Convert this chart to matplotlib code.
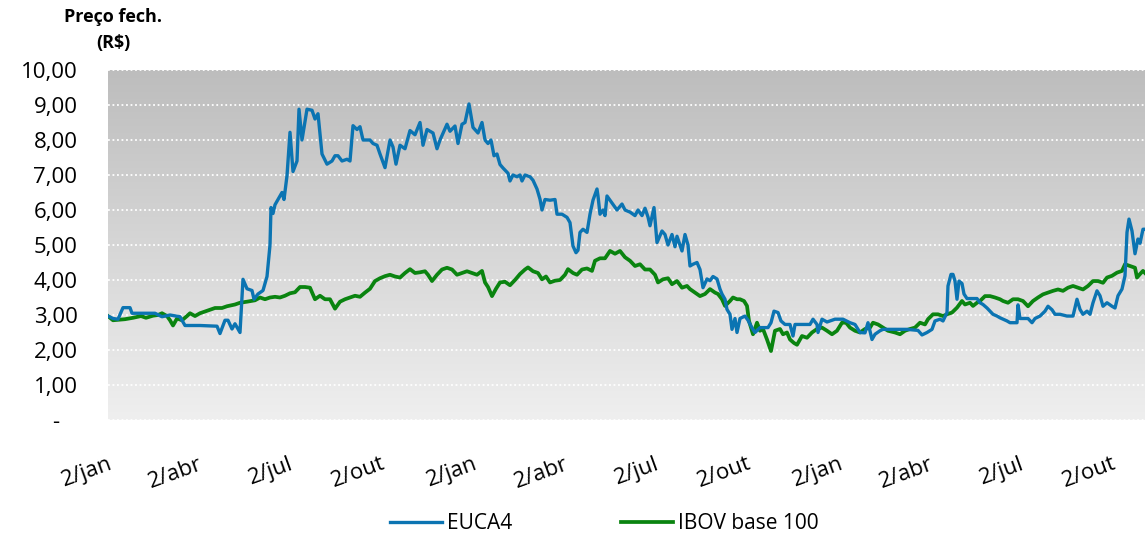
import matplotlib.pyplot as plt
import pandas as pd
import numpy as np

# dias corridos desde 02/01/2007 e preco de fechamento (R$)
dias_euca = [0, 5, 10, 15, 22, 24, 37, 47, 54, 62, 72, 77, 92, 109, 112, 117, 120, 124, 127, 132,
             135, 139, 144, 146, 150, 155, 159, 162, 163, 165, 167, 174, 176, 179, 182, 185, 189, 191,
             194, 199, 204, 207, 210, 214, 219, 224, 227, 230, 234, 239, 242, 245, 249, 252, 255, 262,
             265, 269, 272, 277, 282, 285, 288, 292, 297, 302, 307, 312, 315, 319, 322, 325, 329, 332,
             339, 342, 347, 350, 354, 357, 361, 365, 370, 374, 377, 380, 383, 386, 389, 392, 395, 400,
             402, 405, 409, 412, 414, 417, 422, 425, 429, 432, 434, 437, 442, 447, 449, 454, 459, 462,
             465, 468, 470, 472, 475, 479, 482, 485, 489, 490, 492, 495, 497, 499, 504, 509, 514, 517,
             522, 527, 530, 534, 537, 540, 542, 546, 549, 554, 557, 560, 564, 567, 569, 574, 577, 580,
             582, 585, 589, 592, 595, 599, 602, 605, 609, 612, 614, 617, 619, 622, 624, 627, 629, 632,
             637, 640, 644, 647, 652, 657, 660, 663, 666, 670, 673, 677, 682, 685, 687, 695, 702, 705,
             709, 710, 714, 719, 727, 735, 742, 747, 752, 757, 760, 764, 767, 772, 775, 787, 799, 810,
             814, 819, 824, 827, 832, 835, 839, 840, 843, 845, 847, 849, 851, 854, 856, 859, 864, 869,
             872, 875, 879, 882, 885, 889, 892, 895, 899, 902, 909, 910, 912, 917, 920, 924, 927, 932,
             937, 940, 944, 947, 952, 959, 965, 969, 972, 975, 979, 982, 985, 989, 992, 995, 999, 1004,
             1007, 1010, 1014, 1017, 1019, 1021, 1024, 1027, 1030, 1032, 1035, 1037]
euca4 = [2.97, 2.90, 2.88, 3.21, 3.21, 3.05, 3.05, 3.05, 2.95, 3.0, 2.95, 2.7, 2.7, 2.68, 2.47, 2.85, 2.85, 2.6, 2.75, 2.5,
         4.02, 3.75, 3.7, 3.45, 3.6, 3.7, 4.1, 5.0, 6.07, 5.9, 6.15, 6.5, 6.3, 6.98, 8.22, 7.1, 7.4, 8.88,
         8.0, 8.88, 8.85, 8.6, 8.75, 7.6, 7.31, 7.4, 7.55, 7.55, 7.4, 7.45, 7.4, 8.41, 8.3, 8.38, 8.0, 8.0,
         7.9, 7.85, 7.6, 7.21, 8.0, 7.8, 7.31, 7.85, 7.75, 8.27, 8.15, 8.5, 7.85, 8.3, 8.25, 8.2, 7.75, 8.0,
         8.45, 8.25, 8.4, 7.9, 8.45, 8.5, 9.03, 8.36, 8.2, 8.5, 8.0, 7.9, 8.0, 7.55, 7.6, 7.3, 7.2, 7.05,
         6.83, 7.0, 6.95, 7.0, 6.83, 7.0, 6.95, 6.85, 6.6, 6.31, 6.0, 6.3, 6.28, 6.3, 5.88, 5.88, 5.79, 5.64,
         4.97, 4.78, 4.85, 5.36, 5.45, 5.36, 5.88, 6.28, 6.6, 6.4, 5.88, 6.0, 5.84, 6.4, 6.2, 6.0, 6.17, 6.0,
         5.94, 5.84, 6.0, 5.84, 6.05, 5.8, 5.55, 6.07, 5.07, 5.4, 5.3, 5.0, 5.3, 4.95, 5.25, 4.83, 5.3, 5.0,
         4.4, 4.45, 4.5, 4.3, 3.78, 4.03, 3.98, 4.1, 4.03, 3.74, 3.6, 3.45, 3.16, 3.02, 2.59, 2.9, 2.5, 2.9,
         2.97, 2.85, 2.63, 2.5, 2.64, 2.64, 2.64, 2.78, 3.11, 3.07, 2.83, 2.73, 2.73, 2.4, 2.73, 2.73, 2.73, 2.88,
         2.73, 2.5, 2.88, 2.8, 2.88, 2.88, 2.78, 2.73, 2.5, 2.49, 2.78, 2.3, 2.45, 2.55, 2.59, 2.59, 2.59, 2.56,
         2.43, 2.5, 2.59, 2.83, 2.88, 2.83, 3.07, 3.83, 4.16, 4.16, 3.97, 3.45, 3.97, 3.9, 3.6, 3.47, 3.47, 3.47,
         3.35, 3.3, 3.2, 3.11, 3.02, 2.97, 2.92, 2.88, 2.83, 2.78, 2.78, 3.29, 2.9, 2.9, 2.9, 2.78, 2.9, 2.97,
         3.11, 3.25, 3.15, 3.02, 3.02, 2.97, 2.97, 3.45, 3.16, 3.02, 3.11, 3.02, 3.35, 3.69, 3.55, 3.25, 3.35, 3.25,
         3.2, 3.55, 3.74, 4.12, 5.36, 5.74, 5.4, 4.75, 5.17, 5.05, 5.45, 5.45]

dias_ibov = [0, 5, 17, 25, 33, 38, 45, 50, 54, 59, 62, 65, 69, 74, 79, 82, 87, 92, 97, 102, 107, 114, 119,
             127, 132, 139, 147, 152, 157, 162, 167, 172, 177, 182, 187, 192, 197, 202, 207, 212, 217,
             222, 227, 232, 237, 242, 247, 252, 257, 262, 267, 272, 277, 282, 287, 292, 297, 302, 307,
             312, 317, 320, 324, 329, 334, 339, 344, 349, 354, 359, 364, 369, 374, 377, 380, 384, 388,
             392, 397, 402, 407, 412, 417, 420, 425, 430, 434, 438, 442, 447, 452, 457, 460, 465, 469,
             474, 479, 484, 487, 492, 497, 502, 507, 512, 517, 522, 527, 532, 537, 542, 547, 550, 555,
             560, 564, 569, 574, 579, 582, 587, 592, 597, 602, 607, 610, 614, 617, 622, 625, 629, 632,
             636, 639, 641, 645, 649, 652, 655, 659, 663, 667, 672, 675, 679, 682, 686, 689, 694, 699,
             704, 709, 714, 719, 724, 729, 734, 738, 742, 747, 752, 757, 762, 765, 770, 775, 780, 787,
             792, 797, 802, 807, 812, 817, 820, 825, 830, 835, 839, 844, 849, 854, 857, 862, 865, 869,
             872, 877, 882, 887, 892, 895, 900, 905, 910, 915, 920, 925, 930, 935, 940, 945, 950, 955,
             960, 965, 970, 975, 980, 985, 990, 995, 999, 1004, 1009, 1014, 1017, 1022, 1027, 1029,
             1032, 1035, 1037]
ibov = [2.97, 2.85, 2.88, 2.92, 2.97, 2.92, 2.98, 3.0, 3.05, 2.97, 2.85, 2.7, 2.9, 2.85, 2.97, 3.05, 2.97, 3.05, 3.1, 3.15, 3.2, 3.2, 3.25,
        3.3, 3.35, 3.38, 3.42, 3.5, 3.45, 3.5, 3.52, 3.5, 3.55, 3.62, 3.65, 3.8, 3.8, 3.78, 3.45, 3.55, 3.45,
        3.45, 3.18, 3.38, 3.45, 3.5, 3.55, 3.52, 3.64, 3.75, 3.97, 4.05, 4.11, 4.15, 4.1, 4.07, 4.2, 4.31, 4.2,
        4.22, 4.25, 4.15, 3.97, 4.15, 4.3, 4.35, 4.3, 4.15, 4.2, 4.25, 4.2, 4.15, 4.26, 3.93, 3.8, 3.54, 3.75,
        3.93, 3.95, 3.85, 4.0, 4.17, 4.3, 4.36, 4.25, 4.2, 4.02, 4.1, 3.93, 3.98, 4.0, 4.15, 4.31, 4.2, 4.15,
        4.3, 4.33, 4.26, 4.55, 4.62, 4.62, 4.83, 4.75, 4.83, 4.65, 4.55, 4.4, 4.45, 4.3, 4.3, 4.15, 3.93, 4.02,
        4.05, 3.88, 3.97, 3.78, 3.83, 3.74, 3.64, 3.54, 3.6, 3.74, 3.64, 3.6, 3.45, 3.26, 3.4, 3.5, 3.45, 3.45,
        3.4, 3.26, 2.83, 2.45, 2.78, 2.55, 2.6, 2.3, 1.97, 2.55, 2.6, 2.45, 2.5, 2.3, 2.2, 2.15, 2.4, 2.35,
        2.5, 2.6, 2.64, 2.55, 2.45, 2.55, 2.78, 2.78, 2.64, 2.55, 2.5, 2.6, 2.64, 2.78, 2.73, 2.64, 2.55, 2.5,
        2.45, 2.55, 2.6, 2.64, 2.78, 2.73, 2.88, 3.02, 3.02, 2.97, 3.02, 3.07, 3.21, 3.4, 3.3, 3.35, 3.26, 3.35,
        3.4, 3.54, 3.54, 3.5, 3.45, 3.4, 3.35, 3.45, 3.45, 3.4, 3.25, 3.4, 3.5, 3.59, 3.64, 3.69, 3.73, 3.69,
        3.78, 3.83, 3.78, 3.73, 3.83, 3.97, 3.97, 3.92, 4.07, 4.12, 4.21, 4.26, 4.45, 4.4, 4.35, 4.07,
        4.17, 4.26, 4.2]

tick_datas = ['2007-01-02', '2007-04-02', '2007-07-02', '2007-10-02',
              '2008-01-02', '2008-04-02', '2008-07-02', '2008-10-02',
              '2009-01-02', '2009-04-02', '2009-07-02', '2009-10-02']
tick_nomes = ['2/jan', '2/abr', '2/jul', '2/out'] * 3
y_ticks = list(range(0, 11))
y_nomes = ['-   '] + ['%d,00' % v for v in y_ticks[1:]]

inicio = pd.Timestamp('2007-01-02')
x_euca = inicio + pd.to_timedelta(dias_euca, unit='D')
x_ibov = inicio + pd.to_timedelta(dias_ibov, unit='D')

plt.rcParams['font.family'] = ['Open Sans', 'DejaVu Sans']

fig = plt.figure(figsize=(11.45, 5.39), dpi=100)
ax = fig.add_axes([108 / 1145, 119 / 539, 1037 / 1145, 350 / 539])

# fundo em degrade (cinza em cima, claro embaixo)
grad = np.linspace(0, 1, 256).reshape(-1, 1)
ax.imshow(grad, extent=[0, 1, 0, 1], transform=ax.transAxes, aspect='auto',
          cmap=plt.matplotlib.colors.LinearSegmentedColormap.from_list('g', ['#efefef', '#bdbdbd']),
          origin='lower', zorder=0)

for v in y_ticks:
    ax.axhline(v, color='white', linestyle=(0, (1, 1.5)), linewidth=1.3, zorder=1)

ax.plot(x_euca, euca4, color='#0b74b2', linewidth=2.4, label='EUCA4', zorder=3)
ax.plot(x_ibov, ibov, color='#0a8410', linewidth=2.7, label='IBOV base 100', zorder=2)

ax.set_xlim(inicio, pd.Timestamp('2009-11-04'))
ax.set_ylim(0, 10)
ax.set_yticks(y_ticks)
ax.set_yticklabels(y_nomes, fontsize=16)
ax.set_xticks(pd.to_datetime(tick_datas))
ax.set_xticklabels(tick_nomes, fontsize=16, rotation=20, ha='right', rotation_mode='anchor')
ax.tick_params(axis='both', length=0)
ax.tick_params(axis='y', pad=22)
ax.tick_params(axis='x', pad=24)
for s in ax.spines.values():
    s.set_visible(False)

fig.text(113 / 1145, 1 - 17 / 539, 'Preço fech.', ha='center', va='center',
         fontsize=13, fontweight='bold')
fig.text(113 / 1145, 1 - 43 / 539, '(R$)', ha='center', va='center',
         fontsize=13, fontweight='bold')

fig.legend(loc='center', bbox_to_anchor=(0.528, 0.028), ncol=2, frameon=False,
           fontsize=15, handlelength=2.5, handletextpad=0.25, columnspacing=5.2)

fig.savefig('out.png', dpi=100)
